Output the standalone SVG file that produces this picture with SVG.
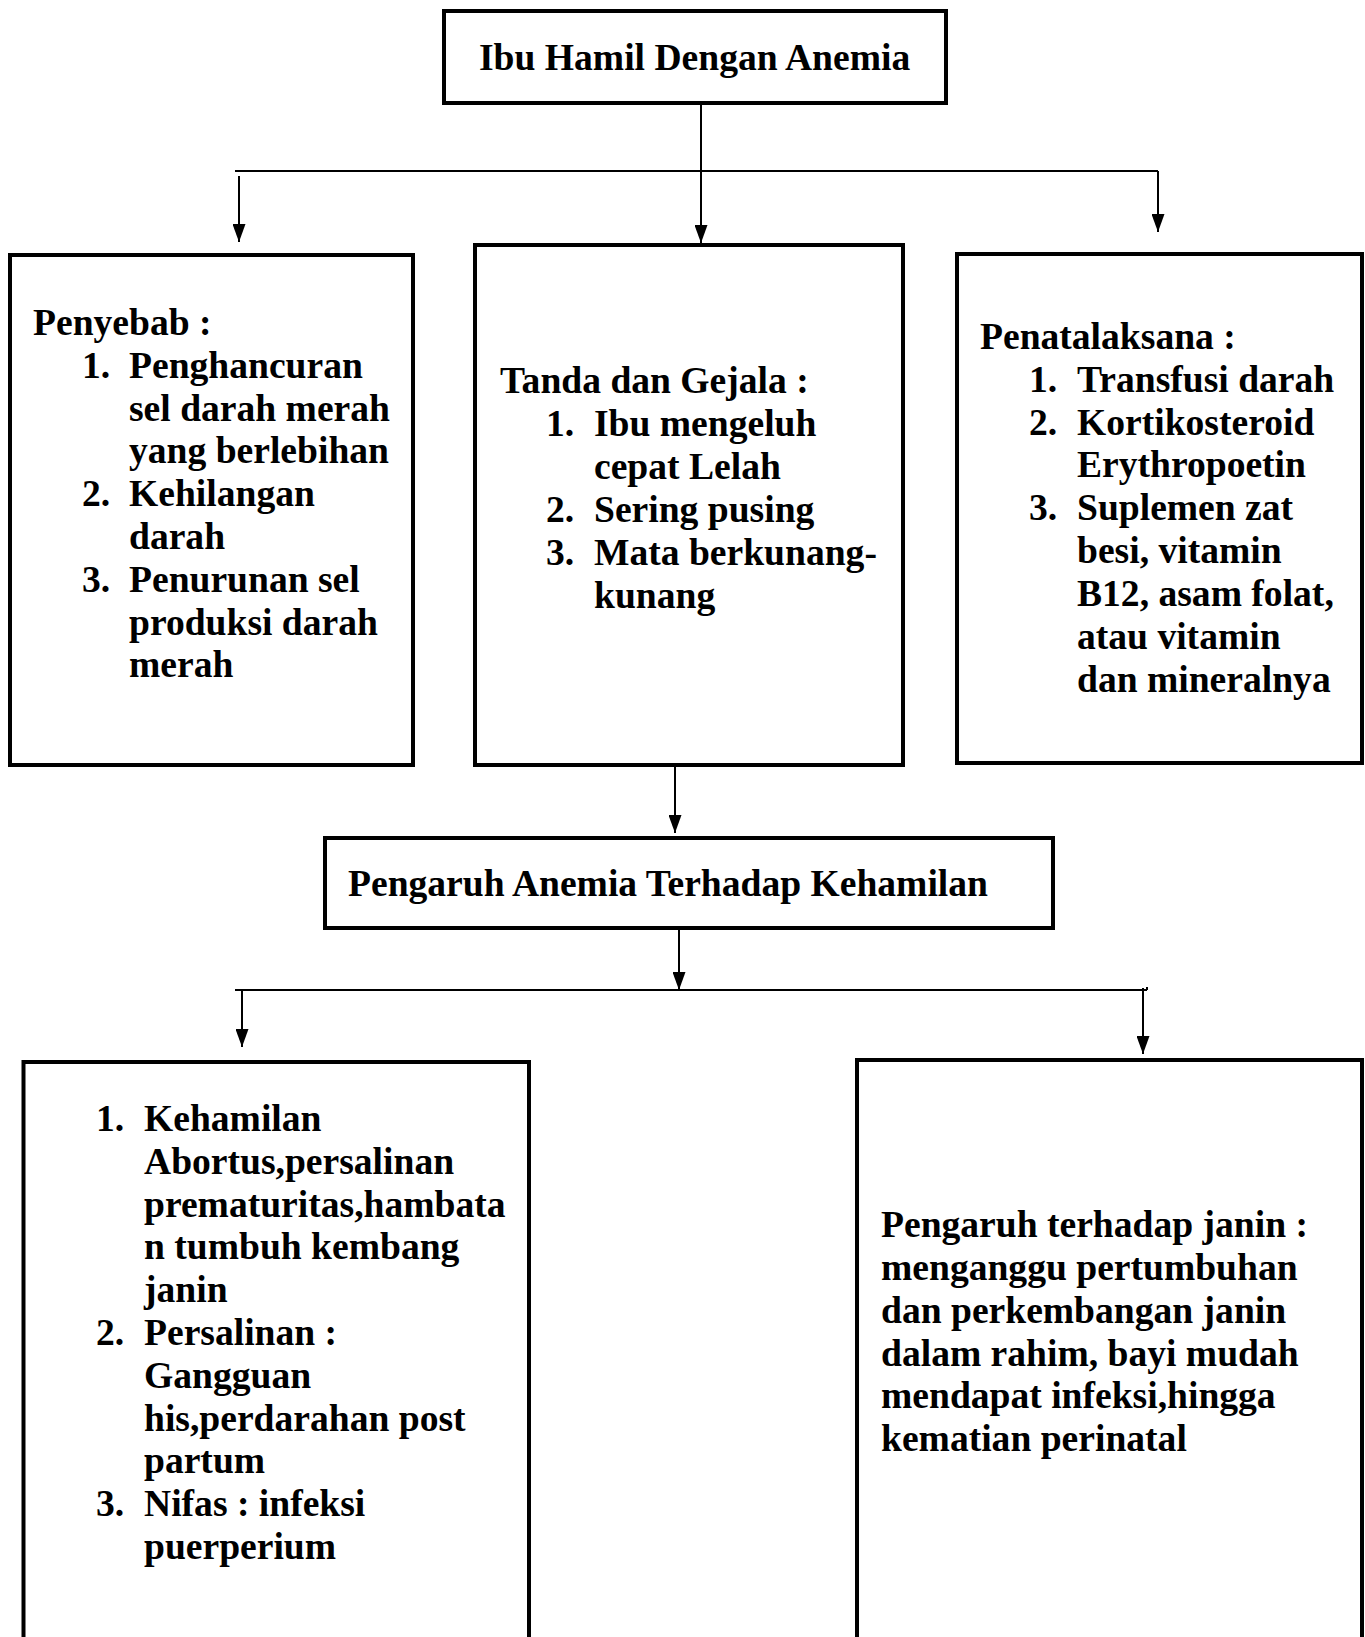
<svg xmlns="http://www.w3.org/2000/svg" width="1365" height="1637" viewBox="0 0 1365 1637">
<style>
.box{fill:#fff;stroke:#000;stroke-width:4}
.t{font-family:"Liberation Serif","Times New Roman",serif;font-weight:bold;font-size:37.6px;fill:#000}
.ln{stroke:#000;stroke-width:2;fill:none}
</style>
<defs>
<marker id="ah" markerUnits="userSpaceOnUse" markerWidth="18" markerHeight="13" refX="18" refY="6.5" orient="auto" viewBox="0 0 18 13">
<path d="M0,0 L18,6.5 L0,13 Z" fill="#000"/>
</marker>
</defs>
<rect width="1365" height="1637" fill="#fff"/>
<g id="connectors">
<line class="ln" x1="701" y1="103" x2="701" y2="243" marker-end="url(#ah)"/>
<line class="ln" x1="235" y1="171" x2="1158" y2="171"/>
<line class="ln" x1="239" y1="176" x2="239" y2="242" marker-end="url(#ah)"/>
<line class="ln" x1="1158" y1="171" x2="1158" y2="232" marker-end="url(#ah)"/>
<line class="ln" x1="675" y1="765" x2="675" y2="833" marker-end="url(#ah)"/>
<line class="ln" x1="679" y1="930" x2="679" y2="990" marker-end="url(#ah)"/>
<line class="ln" x1="235" y1="990" x2="1147" y2="990"/>
<line class="ln" x1="1147" y1="987" x2="1147" y2="990"/>
<line class="ln" x1="242" y1="990" x2="242" y2="1047" marker-end="url(#ah)"/>
<line class="ln" x1="1143" y1="988" x2="1143" y2="1054" marker-end="url(#ah)"/>
</g>
<g id="node-top">
<rect class="box" x="444" y="11" width="502" height="92"/>
<text class="t" x="479" y="70">Ibu Hamil Dengan Anemia</text>
</g>
<g id="node-penyebab">
<rect class="box" x="10" y="255" width="403" height="510"/>
<text class="t" x="33" y="335">Penyebab :</text>
<text class="t" x="82" y="377.8">1.</text>
<text class="t" x="129" y="377.8">Penghancuran</text>
<text class="t" x="129" y="420.6">sel darah merah</text>
<text class="t" x="129" y="463.4">yang berlebihan</text>
<text class="t" x="82" y="506.2">2.</text>
<text class="t" x="129" y="506.2">Kehilangan</text>
<text class="t" x="129" y="549">darah</text>
<text class="t" x="82" y="591.8">3.</text>
<text class="t" x="129" y="591.8">Penurunan sel</text>
<text class="t" x="129" y="634.6">produksi darah</text>
<text class="t" x="129" y="677.4">merah</text>
</g>
<g id="node-gejala">
<rect class="box" x="475" y="245" width="428" height="520"/>
<text class="t" x="500" y="393">Tanda dan Gejala :</text>
<text class="t" x="546" y="436">1.</text>
<text class="t" x="594" y="436">Ibu mengeluh</text>
<text class="t" x="594" y="479">cepat Lelah</text>
<text class="t" x="546" y="522">2.</text>
<text class="t" x="594" y="522">Sering pusing</text>
<text class="t" x="546" y="565">3.</text>
<text class="t" x="594" y="565">Mata berkunang-</text>
<text class="t" x="594" y="608">kunang</text>
</g>
<g id="node-penatalaksana">
<rect class="box" x="957" y="254" width="405" height="509"/>
<text class="t" x="980" y="349">Penatalaksana :</text>
<text class="t" x="1029" y="392">1.</text>
<text class="t" x="1077" y="392">Transfusi darah</text>
<text class="t" x="1029" y="435">2.</text>
<text class="t" x="1077" y="435">Kortikosteroid</text>
<text class="t" x="1077" y="477">Erythropoetin</text>
<text class="t" x="1029" y="520">3.</text>
<text class="t" x="1077" y="520">Suplemen zat</text>
<text class="t" x="1077" y="563">besi, vitamin</text>
<text class="t" x="1077" y="606">B12, asam folat,</text>
<text class="t" x="1077" y="649">atau vitamin</text>
<text class="t" x="1077" y="692">dan mineralnya</text>
</g>
<g id="node-pengaruh">
<rect class="box" x="325" y="838" width="728" height="90"/>
<text class="t" x="348" y="896">Pengaruh Anemia Terhadap Kehamilan</text>
</g>
<g id="node-ibu">
<rect class="box" x="23.5" y="1062" width="505.5" height="620"/>
<text class="t" x="96" y="1131">1.</text>
<text class="t" x="144" y="1131">Kehamilan</text>
<text class="t" x="144" y="1173.8">Abortus,persalinan</text>
<text class="t" x="144" y="1216.6">prematuritas,hambata</text>
<text class="t" x="144" y="1259.4">n tumbuh kembang</text>
<text class="t" x="144" y="1302.2">janin</text>
<text class="t" x="96" y="1345">2.</text>
<text class="t" x="144" y="1345">Persalinan :</text>
<text class="t" x="144" y="1387.8">Gangguan</text>
<text class="t" x="144" y="1430.6">his,perdarahan post</text>
<text class="t" x="144" y="1473.4">partum</text>
<text class="t" x="96" y="1516.2">3.</text>
<text class="t" x="144" y="1516.2">Nifas : infeksi</text>
<text class="t" x="144" y="1559">puerperium</text>
</g>
<g id="node-janin">
<rect class="box" x="857" y="1060" width="505" height="620"/>
<text class="t" x="881" y="1237">Pengaruh terhadap janin :</text>
<text class="t" x="881" y="1280">menganggu pertumbuhan</text>
<text class="t" x="881" y="1323">dan perkembangan janin</text>
<text class="t" x="881" y="1366">dalam rahim, bayi mudah</text>
<text class="t" x="881" y="1408">mendapat infeksi,hingga</text>
<text class="t" x="881" y="1451">kematian perinatal</text>
</g>
</svg>
